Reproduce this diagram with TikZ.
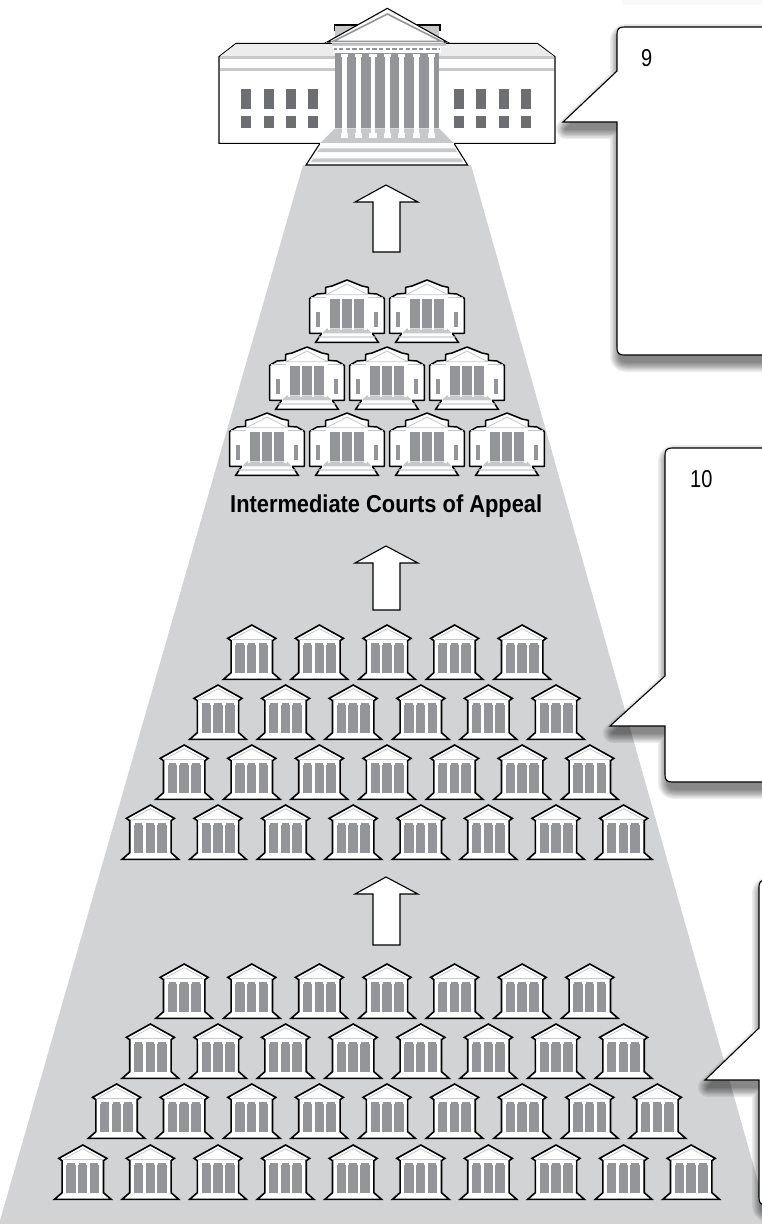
\documentclass[tikz,border=0pt]{standalone}
\usepackage{fontspec}
\setmainfont{Liberation Sans}
\definecolor{bgcone}{HTML}{D1D3D4}
\definecolor{colgray}{HTML}{939598}
\definecolor{wingray}{HTML}{6D6E71}
\definecolor{lightg}{HTML}{C7C8CA}
\definecolor{roofg}{HTML}{EDEDEE}
\newcommand{\boxpath}[6]{(#1+7,#2) -- (780,#2) -- (780,#3) -- (#1+7,#3) .. controls (#1+2,#3) and (#1,#3-2) .. (#1,#3-7) -- (#1,#5) -- (#6,#5) -- (#1,#4) -- (#1,#2+7) .. controls (#1,#2+2) and (#1+2,#2) .. (#1+7,#2) -- cycle}
\newcommand{\callout}[6]{%
  \foreach \w in {20,17,14,11.5,9,6.5,4,1.5}{
    \begin{scope}[shift={(3,7)},transparency group,opacity=.075]
      \draw[black,line width=\w pt,line join=round,fill=black] \boxpath{#1}{#2}{#3}{#4}{#5}{#6};
    \end{scope}
  }
  \draw[calloutline] \boxpath{#1}{#2}{#3}{#4}{#5}{#6};
}
\tikzset{
  x=1pt,y=-1pt,
  calloutline/.style={draw=black,fill=white,line width=1.1pt,line join=miter},
  blockarrow/.style={draw=black,fill=white,line width=1.1pt,line join=miter},
  smallcourt/.pic={
    \begin{scope}[scale=1/3]
      \draw[fill=white,line width=1.6pt,line join=miter] (0,0) -- (72,40) -- (62,47) -- (62,143) -- (85,163) -- (-85,163) -- (-62,143) -- (-62,47) -- (-72,40) -- cycle;
      \fill[colgray] (-54,54) rectangle (54,143);
      \foreach \c in {-53,-18,17,53}{
        \fill[white] (\c-3.5,52) rectangle (\c+3.5,145);
        \fill[white] (\c-6,50) rectangle (\c+6,60);
      }
      \draw[lightg,line width=.8pt] (-54,40) -- (0,11) -- (54,40);
      \fill[lightg] (-60,41) rectangle (60,45);
    \end{scope}
  },
  medcourt/.pic={
    \begin{scope}[scale=1/3]
      \draw[fill=white,line width=1.5pt,line join=miter] (-76,160) -- (-94,187) -- (94,187) -- (76,160) -- cycle;
      \fill[lightg] (-83,169) -- (83,169) -- (86,173) -- (-86,173) -- cycle;
      \draw[fill=white,line width=1.5pt,line join=round] (-112,160) -- (-112,55) -- (-90,42) -- (-64,40) -- (-64,22) -- (-45,18) -- (0,0) -- (45,18) -- (64,22) -- (64,40) -- (90,42) -- (112,55) -- (112,160) -- cycle;
      \fill[white] (-75,157) rectangle (75,164);
      \fill[colgray] (-52,56) rectangle (52,145);
      \fill[lightg] (-60,145) -- (60,145) -- (75,160) -- (-75,160) -- cycle;
      \foreach \c in {-55,-18,18,55}{
        \fill[white] (\c-3.5,54) rectangle (\c+3.5,150);
      }
      \fill[colgray] (-92,95) rectangle (-80,140);
      \fill[colgray] (80,95) rectangle (92,140);
      \fill[lightg] (-108,52) rectangle (-62,55);
      \fill[lightg] (62,52) rectangle (108,55);
      \draw[lightg,line width=.8pt] (-62,44) -- (0,12) -- (62,44) -- cycle;
    \end{scope}
  }
}
\begin{document}
\begin{tikzpicture}
\useasboundingbox (0,0) rectangle (762,1224);
\clip (0,0) rectangle (762,1224);
\fill[white] (0,0) rectangle (762,1224);
% faint shadow at the top edge
\fill[black,opacity=.025] (622,0) rectangle (762,5);
% cone
\fill[bgcone] (303,165) -- (471,165) -- (770,1224) -- (-1,1224) -- cycle;
% arrows
\draw[blockarrow] (386,185) -- (418,202) -- (400,202) -- (400,252) -- (373,252) -- (373,202) -- (355,202) -- cycle;
\draw[blockarrow] (386,546) -- (418,563) -- (400,563) -- (400,610) -- (373,610) -- (373,563) -- (355,563) -- cycle;
\draw[blockarrow] (386,877) -- (418,894) -- (400,894) -- (400,945) -- (373,945) -- (373,894) -- (355,894) -- cycle;
% intermediate courts
\foreach \cx in {347,427}{ \pic at (\cx,280) {medcourt}; }
\foreach \cx in {307,387,467}{ \pic at (\cx,347) {medcourt}; }
\foreach \cx in {267,347,427,507}{ \pic at (\cx,413) {medcourt}; }
\node[anchor=base west,inner sep=0pt] (label) at (230,512) {\resizebox{312pt}{\height}{\fontsize{24.4}{26}\selectfont\bfseries Intermediate Courts of Appeal}};
% district courts
\foreach \n/\ty in {5/625,6/685,7/745,8/805,7/964,8/1024,9/1084,10/1145}{
  \pgfmathtruncatemacro{\last}{\n-1}
  \foreach \i in {0,...,\last}{
    \pgfmathsetmacro{\cx}{387+(\i-\last/2)*67.6}
    \pic at (\cx,\ty) {smallcourt};
  }
}
% supreme court
\begin{scope}[shift={(200,0)},scale=1/3]
  \draw[fill=white,line width=1.1pt] (57,430) -- (57,170) -- (108,130) -- (1012,130) -- (1065,170) -- (1065,430) -- cycle;
  \fill[roofg] (60,169) -- (109,132) -- (1011,132) -- (1062,169) -- cycle;
  \fill[lightg] (60,168) rectangle (1062,177);
  \fill[lightg] (60,205) rectangle (1062,214);
  \foreach \wx in {123,192,258,324,762,828,897,963}{
    \fill[wingray] (\wx,267) rectangle (\wx+30,327);
    \fill[wingray] (\wx,348) rectangle (\wx+30,384);
  }
  % attic
  \fill[lightg] (405,76) rectangle (718,128);
  \draw[line width=1.1pt] (403,92) -- (403,75) -- (720,75) -- (720,92);
  % columns block
  \fill[colgray] (405,160) rectangle (717,385);
  \fill[white] (400,138) rectangle (722,160);
  \fill[colgray] (403,144) rectangle (720,150);
  \foreach \c in {410,430,...,710}{ \fill[white] (\c,144) rectangle (\c+7,150); }
  \fill[lightg] (395,127) rectangle (738,139);
  \fill[white] (395,139) rectangle (738,141);
  % steps
  \fill[lightg] (405,385) -- (717,385) -- (762,430) -- (360,430) -- cycle;
  \draw[fill=white,line width=1.1pt,line join=miter] (360,430) -- (318,495) -- (803,495) -- (762,430);
  \fill[white] (360,430) rectangle (762,432);
  \fill[lightg] (358,445) -- (765,445) -- (771,456) -- (351,456) -- cycle;
  \fill[lightg] (340,475) -- (783,475) -- (789,486) -- (333,486) -- cycle;
  \foreach \c in {433,476,519,562,605,649,694}{
    \fill[white] (\c-7,170) rectangle (\c+7,400);
    \fill[white] (\c-11,400) rectangle (\c+11,414);
    \fill[white] (\c-11,162) rectangle (\c+11,170);
  }
  % pediment
  \draw[fill=white,line width=1.1pt,line join=miter] (378,128) -- (562,25) -- (745,128) -- cycle;
  \fill[white] (378,127) rectangle (745,130);
  \draw[colgray,line width=1.6pt,line join=miter] (400,124) -- (562,42) -- (724,124) -- cycle;
  \fill[black] (378,128) -- (392,120) -- (392,128) -- cycle;
  \fill[black] (745,128) -- (731,120) -- (731,128) -- cycle;
\end{scope}
% callouts
\callout{617}{27}{355}{71}{122}{563}
\callout{665}{448}{782}{676}{726}{610}
\callout{759}{880}{1205}{1028}{1080}{705}
\node[anchor=base west,inner sep=0pt] (nine) at (641,66) {\scalebox{.82}[1]{\fontsize{24.4}{26}\selectfont 9}};
\node[anchor=base west,inner sep=0pt] (ten) at (690,487) {\scalebox{.82}[1]{\fontsize{24.4}{26}\selectfont 10}};
\end{tikzpicture}
\end{document}
